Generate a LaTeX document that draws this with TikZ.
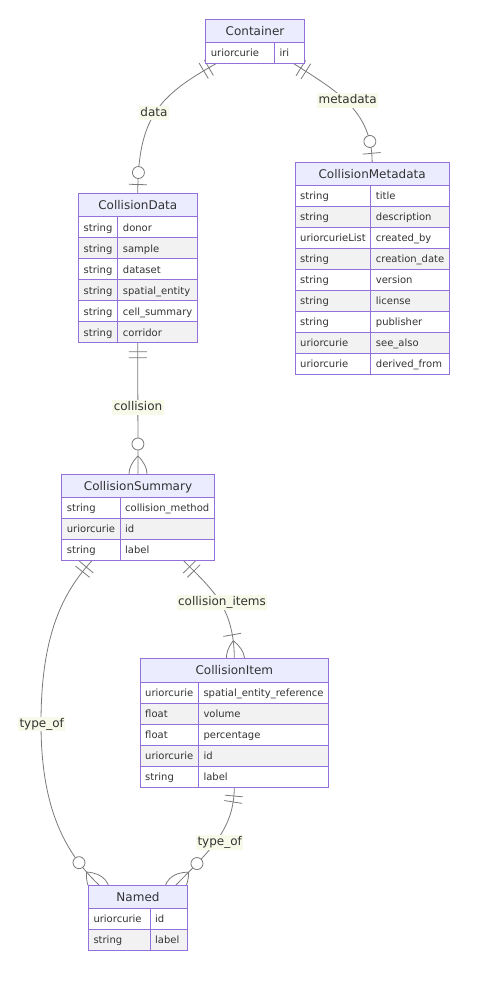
\documentclass[tikz,border=0pt]{standalone}
\usepackage{fontspec}
\setmainfont{DejaVu Sans}
\usetikzlibrary{calc,decorations.markings}
\definecolor{bordc}{HTML}{9370DB}
\definecolor{hdrc}{HTML}{ECECFF}
\definecolor{rowgrey}{HTML}{F2F2F2}
\definecolor{textc}{HTML}{333333}
\definecolor{linec}{HTML}{7A7A7A}
\definecolor{lblbg}{HTML}{F7F9E9}
\pgfdeclarelayer{back}
\pgfdeclarelayer{bg}
\pgfsetlayers{back,bg,main}
\tikzset{
  ebord/.style={draw=bordc, line width=1pt},
  htext/.style={inner sep=0pt, text=textc, font=\fontsize{12}{14}\selectfont},
  cell/.style={inner sep=0pt, text=textc, font=\fontsize{10}{12}\selectfont},
  ebox/.style={draw=bordc, line width=1pt, rectangle, inner sep=0pt, outer sep=0pt},
  conn/.style={draw=linec, line width=0.8pt},
  lbl/.style={fill=lblbg, inner sep=1.5pt, text=textc, text height=9pt, text depth=2.5pt, font=\fontsize{12}{14}\selectfont},
  oneS/.style={postaction={decorate, decoration={markings,
     mark=at position 9pt with {\draw[conn] (0,-9)--(0,9);},
     mark=at position 15pt with {\draw[conn] (0,-9)--(0,9);}}}},
  zoEnd/.style={postaction={decorate, decoration={markings,
     mark=at position -21pt with {\draw[conn, fill=white] (0,0) circle[radius=6pt];},
     mark=at position -9pt with {\draw[conn] (0,-9)--(0,9);}}}},
  zmEnd/.style={postaction={decorate, decoration={markings,
     mark=at position -30pt with {\draw[conn, fill=white] (0,0) circle[radius=6pt];},
     mark=at position -18pt with {\draw[conn] (0,0) .. controls (12,12) and (24,12) .. (36,0);
                                  \draw[conn] (0,0) .. controls (12,-12) and (24,-12) .. (36,0);}}}},
  omEnd/.style={postaction={decorate, decoration={markings,
     mark=at position -24pt with {\draw[conn] (0,-9)--(0,9);},
     mark=at position -18pt with {\draw[conn] (0,0) .. controls (12,12) and (24,12) .. (36,0);
                                  \draw[conn] (0,0) .. controls (12,-12) and (24,-12) .. (36,0);}}}},
}
% #1 name, #2 left, #3 top, #4 width, #5 type column width, #6 title, #7 rows, #8 number of rows
\newcommand\entity[8]{%
  \draw[ebord, fill=hdrc] (#2,#3) rectangle ++(#4,23.3);
  \node[htext, anchor=base] (#1-title) at (#2+#4/2,#3+16) {#6};
  \foreach \tya/\atb [count=\i from 0] in {#7} {
    \pgfmathsetmacro\rtop{#3+23.3+21*\i}
    \ifodd\i\relax\def\rfill{rowgrey}\else\def\rfill{white}\fi
    \draw[ebord, fill=\rfill] (#2,\rtop) rectangle ++(#4,21);
    \draw[ebord] (#2+#5,\rtop) -- ++(0,21);
    \node[cell, anchor=base west] at (#2+5,\rtop+14.2) {\tya};
    \node[cell, anchor=base west] at (#2+#5+5,\rtop+14.2) {\atb};
  }
  \node[ebox, anchor=north west, minimum width=#4pt, minimum height={23.3pt+21pt*#8}] (#1) at (#2,#3) {};
}
\begin{document}
\begin{tikzpicture}[x=1pt,y=-1pt]
\begin{pgfonlayer}{back}
\fill[white] (0,0) rectangle (477,986);
\end{pgfonlayer}
\useasboundingbox (0,0) rectangle (477,986);

\entity{container}{205.7}{19}{98.6}{68.6}{Container}{uriorcurie/iri}{1}
\entity{cmeta}{295}{162.3}{154.3}{75.7}{CollisionMetadata}{string/title,string/description,uriorcurieList/created\_by,string/creation\_date,string/version,string/license,string/publisher,uriorcurie/see\_also,uriorcurie/derived\_from}{9}
\entity{cdata}{78.5}{193.5}{118.5}{39.2}{CollisionData}{string/donor,string/sample,string/dataset,string/spatial\_entity,string/cell\_summary,string/corridor}{6}
\entity{csum}{61.7}{474}{152.6}{58.3}{CollisionSummary}{string/collision\_method,uriorcurie/id,string/label}{3}
\entity{citem}{140}{658.7}{188.7}{58.3}{CollisionItem}{uriorcurie/spatial\_entity\_reference,float/volume,float/percentage,uriorcurie/id,string/label}{5}
\entity{named}{88.3}{885}{99.4}{61.7}{Named}{uriorcurie/id,string/label}{2}

\begin{pgfonlayer}{bg}
\draw[conn,oneS,zoEnd] ($(container.south west)+(11,0)$) .. controls (158,96) and (138,118) .. (cdata.north);
\draw[conn,oneS,zoEnd] ($(container.south west)+(87.5,0)$) .. controls (335,90) and (372,110) .. (cmeta.north);
\draw[conn,oneS,zmEnd] (cdata.south) -- (csum.north);
\draw[conn,oneS,omEnd] ($(csum.south west)+(121.6,0)$) .. controls (210,588) and (234,605) .. (citem.north);
\draw[conn,oneS,zmEnd] ($(csum.south west)+(30.6,0)$) .. controls (60,595) and (41,640) .. (41,723) .. controls (41,800) and (60,848) .. ($(named.north west)+(10.7,0)$);
\draw[conn,oneS,zmEnd] (citem.south) .. controls (234,830) and (210,850) .. ($(named.north west)+(87.7,0)$);
\end{pgfonlayer}

\node[lbl] (l-data) at (154,113) {data};
\node[lbl] (l-meta) at (347.7,100.7) {metadata};
\node[lbl] (l-coll) at (138,407.7) {collision};
\node[lbl] (l-items) at (222,602.7) {collision\_items};
\node[lbl] (l-type1) at (41.7,724) {type\_of};
\node[lbl] (l-type2) at (219.7,842.7) {type\_of};
\end{tikzpicture}
\end{document}
